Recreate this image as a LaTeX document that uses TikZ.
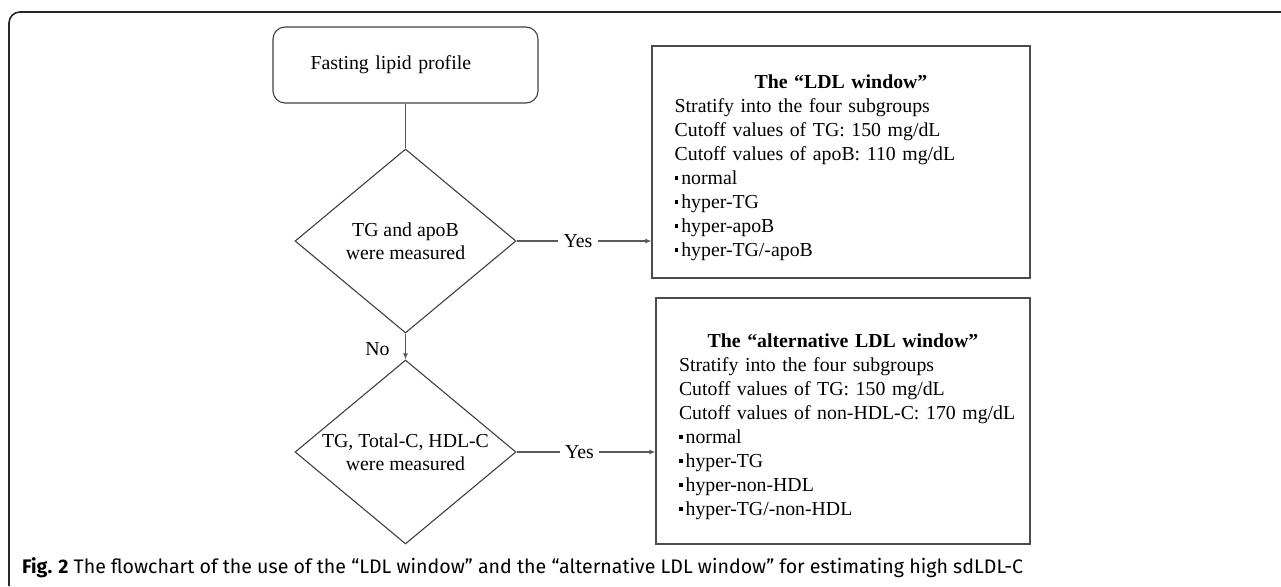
\documentclass[tikz,border=0pt]{standalone}
\usepackage{fontspec}
\setmainfont{Liberation Serif}
\newfontfamily\capfont{Fira Sans}
\usetikzlibrary{arrows.meta,shapes.geometric}
\newcommand{\sqbullet}{\rule[5pt]{3.6pt}{3.6pt}\hspace{3pt}}

\begin{document}
\begin{tikzpicture}[
			x=1pt, y=-1pt,
			>={Latex[length=6pt,width=5pt]},
			every node/.style={font=\fontsize{19.8}{24}\selectfont},
			frame/.style={line width=1.6pt, draw=black!85, rounded corners=11pt},
			conn/.style={line width=1.1pt, draw=black!65},
			startbox/.style={rectangle, draw=black!75, line width=1.1pt, rounded corners=12pt,
				minimum width=265pt, minimum height=76pt, text width=190pt, inner xsep=37.5pt, align=left},
			decision/.style={diamond, draw=black!75, line width=1.1pt, aspect=1.2, inner sep=0pt,
				minimum width=221pt, minimum height=184pt, align=center, font=\fontsize{19.8}{23}\selectfont},
			window/.style={rectangle, draw=black!70, line width=1.1pt, align=left},
			answer/.style={inner xsep=5pt, inner ysep=2pt},
			caption/.style={anchor=base west, inner sep=0pt, font=\capfont\fontsize{19.6}{22}\selectfont}
			]
			\useasboundingbox (0,0) rectangle (1281,586);
			\draw[frame] (9,586) |- (1281,12);
			
			\node[startbox] (start) at (405.5,65) {Fasting lipid profile};
			\node[decision] (d1) at (405.5,241) {TG and apoB\\were measured};
			\node[decision] (d2) at (405.5,452) {TG, Total-C, HDL-C\\were measured};
			
			\node[window, minimum width=378pt, minimum height=232pt, text width=332.6pt, inner xsep=22.7pt]
			(ldl) at (841,162) {%
				{\centering\rule{0pt}{26pt}\bfseries The “LDL window”\par}
				Stratify into the four subgroups\\
				Cutoff values of TG: 150 mg/dL\\
				Cutoff values of apoB: 110 mg/dL\\
				\sqbullet normal\\
				\sqbullet hyper-TG\\
				\sqbullet hyper-apoB\\
				\sqbullet hyper-TG/-apoB};
			\node[window, minimum width=374pt, minimum height=246pt, text width=328pt, inner xsep=23pt]
			(altldl) at (843,421) {%
				{\centering\rule{0pt}{26pt}\bfseries The “alternative LDL window”\par}
				Stratify into the four subgroups\\
				Cutoff values of TG: 150 mg/dL\\
				\mbox{Cutoff values of non-HDL-C: 170 mg/dL}\\
				\sqbullet normal\\
				\sqbullet hyper-TG\\
				\sqbullet hyper-non-HDL\\
				\sqbullet hyper-TG/-non-HDL};
			
			\node[answer] (yes1) at (578,241) {Yes};
			\node[answer] (yes2) at (579.5,452) {Yes};
			
			\draw[conn] (start) -- (d1);
			\draw[conn,->] (d1) -- node[left, xshift=-12pt, yshift=-3pt] (no) {No} (d2);
			\draw[conn] (d1.east) -- (yes1.west);
			\draw[conn,->] (yes1.east) -- (yes1 -| ldl.west);
			\draw[conn] (d2.east) -- (yes2.west);
			\draw[conn,->] (yes2.east) -- (yes2 -| altldl.west);
			
			\node[caption] (cap) at (22,573) {\textbf{Fig. 2} The flowchart of the use of the “LDL window” and the “alternative LDL window” for estimating high sdLDL-C};
		\end{tikzpicture}
\end{document}
